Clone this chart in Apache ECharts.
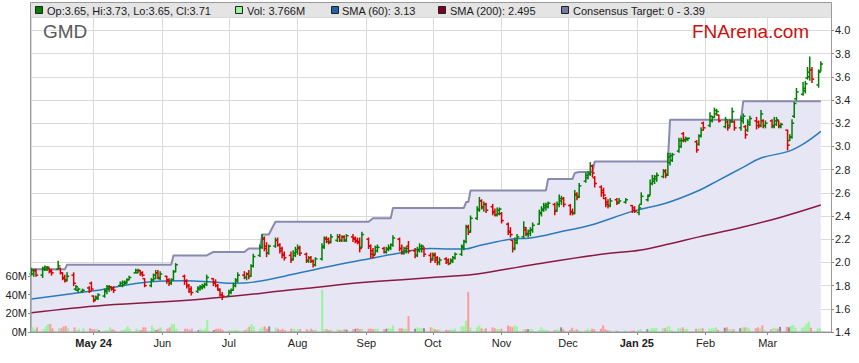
<!DOCTYPE html>
<html><head><meta charset="utf-8">
<script src="https://cdn.jsdelivr.net/npm/echarts@6/dist/echarts.min.js"></script>
<style>html,body{margin:0;padding:0;background:#fff}#c{width:859px;height:363px}</style>
</head><body><div id="c"></div>
<script>
// ---- daily bars: [day, open, high, low, close, volume(M)] ----
const apr24 = [[3,1.90,1.95,1.89,1.93,5],[4,1.90,1.94,1.88,1.93,3],[5,1.93,1.94,1.88,1.89,5],[8,1.89,1.96,1.87,1.95,3],[9,1.94,1.97,1.93,1.96,6],[10,1.94,1.96,1.93,1.96,8.5],[11,1.95,1.95,1.91,1.92,8.5],[12,1.93,1.94,1.89,1.91,4],[15,1.94,2.01,1.94,1.97,4],[16,1.95,1.95,1.90,1.91,4],[17,1.91,1.91,1.85,1.86,6],[18,1.87,1.89,1.83,1.84,6.5],[19,1.85,1.91,1.84,1.88,4],[22,1.89,1.91,1.80,1.82,5],[23,1.77,1.80,1.76,1.79,2],[24,1.76,1.78,1.74,1.77,3.5],[26,1.75,1.77,1.74,1.76,4],[29,1.78,1.79,1.74,1.75,4],[30,1.82,1.83,1.76,1.77,3]];
const may24 = [[1,1.71,1.71,1.66,1.67,3],[2,1.68,1.71,1.68,1.70,3.5],[3,1.69,1.73,1.68,1.72,2],[6,1.71,1.77,1.70,1.76,2],[7,1.75,1.80,1.73,1.79,2],[8,1.77,1.80,1.75,1.79,5],[9,1.79,1.79,1.76,1.77,3],[10,1.78,1.79,1.74,1.76,2],[13,1.80,1.83,1.80,1.82,1.5],[14,1.80,1.84,1.79,1.83,2],[15,1.81,1.84,1.81,1.83,3.5],[16,1.82,1.86,1.82,1.85,6],[17,1.85,1.88,1.85,1.87,3.5],[20,1.91,1.94,1.91,1.93,3.5],[21,1.91,1.94,1.91,1.93,2],[22,1.93,1.93,1.89,1.90,2],[23,1.91,1.92,1.88,1.89,5],[24,1.86,1.86,1.79,1.80,5],[27,1.80,1.86,1.79,1.85,7],[28,1.85,1.90,1.84,1.89,3.5],[29,1.86,1.93,1.86,1.91,2],[30,1.91,1.93,1.86,1.87,3.5],[31,1.86,1.92,1.85,1.90,5]];
const jun24 = [[3,1.88,1.88,1.82,1.84,3.5],[4,1.85,1.86,1.80,1.82,5],[5,1.82,1.86,1.81,1.85,8.5],[6,1.85,1.93,1.85,1.92,8.5],[7,1.92,1.99,1.92,1.98,3.5],[11,1.88,1.89,1.81,1.84,3.5],[12,1.84,1.85,1.78,1.80,3.5],[13,1.80,1.81,1.74,1.75,2],[14,1.77,1.79,1.72,1.74,3.5],[17,1.75,1.79,1.74,1.78,2],[18,1.77,1.80,1.76,1.79,3.5],[19,1.78,1.81,1.77,1.80,2],[20,1.79,1.82,1.78,1.81,3.5],[21,1.81,1.89,1.80,1.87,13],[24,1.86,1.86,1.80,1.82,2],[25,1.83,1.85,1.79,1.80,3.5],[26,1.80,1.81,1.76,1.77,3.5],[27,1.76,1.77,1.71,1.72,3.5],[28,1.72,1.74,1.68,1.71,2]];
const jul24 = [[1,1.71,1.76,1.71,1.75,2],[2,1.74,1.77,1.73,1.76,2],[3,1.76,1.82,1.76,1.80,2],[4,1.80,1.86,1.79,1.85,2],[5,1.84,1.91,1.83,1.89,2],[8,1.89,1.92,1.86,1.87,2],[9,1.87,1.91,1.85,1.90,3.5],[10,1.90,1.93,1.86,1.88,5.5],[11,1.88,1.98,1.88,1.97,8.5],[12,1.97,2.07,1.96,2.05,6],[15,2.06,2.15,2.05,2.13,3.5],[16,2.13,2.24,2.12,2.21,5],[17,2.20,2.22,2.10,2.12,6],[18,2.14,2.17,2.05,2.08,3.5],[19,2.08,2.15,2.07,2.14,6],[22,2.14,2.21,2.13,2.19,5],[23,2.19,2.21,2.14,2.15,3.5],[24,2.15,2.16,2.08,2.10,2],[25,2.12,2.13,2.04,2.06,3.5],[26,2.07,2.09,2.02,2.04,2],[29,2.06,2.09,2.00,2.02,3.5],[30,2.03,2.10,2.02,2.08,3.5],[31,2.06,2.13,2.05,2.11,2]];
const aug24 = [[1,2.09,2.15,2.07,2.13,3],[2,2.12,2.14,2.06,2.08,3],[5,2.07,2.08,2.00,2.02,3],[6,2.01,2.05,2.00,2.04,2],[7,2.04,2.05,2.00,2.01,3.5],[8,2.01,2.02,1.96,1.98,2],[9,1.98,2.04,1.97,2.03,3],[12,2.03,2.16,2.02,2.14,45],[13,2.13,2.22,2.12,2.20,3],[14,2.21,2.22,2.17,2.18,3],[15,2.20,2.21,2.16,2.17,2],[16,2.18,2.24,2.17,2.22,3],[19,2.19,2.24,2.18,2.22,3],[20,2.22,2.24,2.18,2.19,2],[21,2.19,2.23,2.18,2.22,2],[22,2.22,2.23,2.18,2.19,3],[23,2.19,2.24,2.18,2.23,2.5],[26,2.22,2.24,2.18,2.20,3],[27,2.21,2.22,2.17,2.18,3.5],[28,2.19,2.21,2.16,2.17,4],[29,2.18,2.21,2.09,2.12,3],[30,2.13,2.26,2.13,2.24,3.5]];
const sep24 = [[2,2.20,2.21,2.12,2.14,3.5],[3,2.14,2.15,2.04,2.07,3.5],[4,2.10,2.12,2.04,2.06,3],[5,2.07,2.14,2.07,2.13,3.5],[6,2.10,2.15,2.09,2.13,3.5],[9,2.12,2.13,2.08,2.09,3],[10,2.09,2.13,2.08,2.12,3.5],[11,2.11,2.15,2.10,2.13,4],[12,2.12,2.16,2.11,2.15,3.5],[13,2.15,2.23,2.14,2.21,7],[16,2.20,2.21,2.10,2.12,4],[17,2.12,2.15,2.07,2.09,4],[18,2.08,2.13,2.07,2.12,3.5],[19,2.10,2.13,2.08,2.12,3.5],[20,2.14,2.18,2.08,2.10,17],[23,2.10,2.12,2.04,2.06,3.5],[24,2.06,2.13,2.05,2.11,5],[25,2.10,2.16,2.09,2.14,4],[26,2.12,2.15,2.09,2.14,4],[27,2.12,2.13,2.05,2.07,4],[30,2.06,2.08,2.00,2.02,5]];
const oct24 = [[1,2.03,2.08,2.02,2.07,4],[2,2.06,2.08,2.00,2.02,3],[3,2.04,2.05,1.98,2.00,2.5],[4,2.00,2.04,1.98,2.02,3],[7,2.03,2.04,1.99,2.00,2.5],[8,2.02,2.03,1.98,1.99,2],[9,1.99,2.03,1.99,2.02,3],[10,2.01,2.05,2.00,2.04,2.5],[11,2.04,2.08,2.03,2.07,3.5],[14,2.07,2.15,2.06,2.14,6],[15,2.13,2.19,2.11,2.18,6],[16,2.18,2.32,2.17,2.30,12],[17,2.31,2.32,2.24,2.26,43],[18,2.27,2.40,2.26,2.38,5],[21,2.38,2.48,2.37,2.46,5],[22,2.45,2.56,2.44,2.53,7],[23,2.53,2.54,2.46,2.48,4],[24,2.47,2.52,2.44,2.50,3],[25,2.50,2.51,2.43,2.45,4],[28,2.48,2.50,2.41,2.43,5],[29,2.44,2.46,2.40,2.41,4],[30,2.41,2.47,2.40,2.45,3],[31,2.42,2.47,2.41,2.46,3]];
const nov24 = [[1,2.42,2.43,2.34,2.36,3.5],[4,2.33,2.34,2.24,2.26,7],[5,2.27,2.30,2.22,2.24,6],[6,2.19,2.19,2.09,2.12,5],[7,2.12,2.21,2.11,2.19,7],[8,2.17,2.24,2.16,2.22,6],[11,2.22,2.35,2.21,2.30,3],[12,2.28,2.30,2.23,2.25,3],[13,2.24,2.28,2.22,2.27,3],[14,2.25,2.30,2.23,2.28,3],[15,2.28,2.34,2.26,2.32,3],[18,2.33,2.45,2.33,2.43,2],[19,2.42,2.48,2.40,2.46,5],[20,2.45,2.51,2.44,2.49,3],[21,2.47,2.51,2.45,2.50,2],[22,2.48,2.52,2.47,2.51,2],[25,2.50,2.51,2.41,2.44,2],[26,2.45,2.52,2.44,2.50,3],[27,2.50,2.58,2.48,2.55,2],[28,2.53,2.57,2.50,2.55,5],[29,2.55,2.56,2.48,2.50,3]];
const dec24 = [[2,2.49,2.50,2.41,2.43,2],[3,2.44,2.46,2.41,2.42,4.5],[4,2.43,2.62,2.42,2.58,2],[5,2.59,2.60,2.54,2.56,3],[6,2.57,2.68,2.56,2.66,2],[9,2.70,2.77,2.69,2.75,2],[10,2.73,2.78,2.72,2.76,3.5],[11,2.76,2.86,2.75,2.83,2],[12,2.83,2.84,2.74,2.77,3.5],[13,2.73,2.74,2.65,2.68,3],[16,2.65,2.66,2.57,2.60,3.5],[17,2.62,2.64,2.55,2.58,7],[18,2.55,2.56,2.48,2.50,3],[19,2.52,2.54,2.47,2.49,2],[20,2.49,2.55,2.48,2.53,2],[23,2.54,2.55,2.50,2.52,1.5],[24,2.51,2.55,2.51,2.53,1],[27,2.52,2.55,2.51,2.54,1.5],[30,2.49,2.49,2.43,2.45,1.5],[31,2.47,2.48,2.43,2.44,1.5]];
const jan25 = [[2,2.43,2.49,2.41,2.47,2.5],[3,2.50,2.60,2.50,2.57,3],[6,2.54,2.58,2.53,2.57,3],[7,2.58,2.71,2.58,2.68,2],[8,2.68,2.75,2.67,2.72,4.5],[9,2.70,2.75,2.68,2.74,4],[10,2.72,2.77,2.70,2.75,4.5],[13,2.74,2.80,2.73,2.78,4],[14,2.79,2.80,2.73,2.75,4],[15,2.76,2.94,2.75,2.91,5.5],[16,2.86,2.94,2.84,2.92,6],[17,2.88,2.94,2.87,2.93,2],[20,2.96,3.07,2.95,3.05,4],[21,3.00,3.07,2.99,3.05,4],[22,3.11,3.12,3.04,3.06,5],[23,3.05,3.08,3.04,3.07,3],[24,3.06,3.07,3.05,3.07,3.5],[28,3.04,3.05,2.95,2.97,3.5],[29,3.02,3.10,3.01,3.09,3.5],[30,3.09,3.16,3.08,3.14,4],[31,3.20,3.21,3.14,3.16,4]];
const feb25 = [[3,3.18,3.29,3.17,3.26,3.5],[4,3.22,3.26,3.21,3.25,4],[5,3.25,3.33,3.25,3.31,4],[6,3.28,3.32,3.27,3.30,5],[7,3.27,3.27,3.21,3.22,2.5],[10,3.17,3.25,3.16,3.23,4.5],[11,3.21,3.22,3.14,3.16,5],[12,3.18,3.23,3.17,3.21,3],[13,3.22,3.33,3.21,3.30,3],[14,3.21,3.22,3.14,3.16,3],[17,3.16,3.26,3.14,3.24,4],[18,3.22,3.28,3.20,3.26,5],[19,3.17,3.18,3.07,3.10,5],[20,3.14,3.23,3.13,3.21,5],[21,3.19,3.26,3.18,3.24,4],[24,3.22,3.25,3.15,3.18,4],[25,3.21,3.22,3.16,3.18,5],[26,3.18,3.31,3.17,3.28,4],[27,3.22,3.23,3.16,3.18,7],[28,3.18,3.22,3.16,3.20,2]];
const mar25 = [[3,3.22,3.23,3.16,3.18,3],[4,3.17,3.25,3.16,3.22,4.5],[5,3.19,3.25,3.18,3.23,4.5],[6,3.22,3.22,3.16,3.18,3.5],[7,3.17,3.20,3.16,3.19,5.5],[10,3.14,3.14,2.97,3.01,5.5],[11,3.05,3.10,3.05,3.08,5],[12,3.08,3.23,3.07,3.20,6.5],[13,3.26,3.38,3.25,3.37,7.5],[14,3.41,3.50,3.40,3.47,4.5],[17,3.45,3.55,3.44,3.50,4.5],[18,3.48,3.56,3.46,3.54,6],[19,3.59,3.68,3.58,3.64,9],[20,3.60,3.77,3.57,3.66,11],[21,3.66,3.68,3.55,3.58,4.5],[24,3.53,3.66,3.51,3.64,4],[25,3.65,3.73,3.65,3.71,3.766]];
const monthKeys = ['2024-04','2024-05','2024-06','2024-07','2024-08','2024-09','2024-10','2024-11','2024-12','2025-01','2025-02','2025-03'];
const monthRows = [apr24,may24,jun24,jul24,aug24,sep24,oct24,nov24,dec24,jan25,feb25,mar25];
// days whose volume bar is grey (unchanged)
const flatVolDays = ['2024-05-03','2024-05-29','2024-06-17','2024-06-24','2024-07-19','2024-08-23','2024-08-27','2024-09-10','2024-09-23','2024-09-27','2024-11-13','2024-11-28','2025-01-06','2025-02-10','2025-02-17','2025-03-07','2025-03-11'];
// consensus target (points where it changes)
const targetPts = [['2024-04-03',1.94],['2024-04-18',1.94],['2024-04-19',1.98],['2024-06-05',1.98],['2024-06-06',2.06],['2024-06-21',2.06],['2024-06-24',2.09],['2024-07-08',2.09],['2024-07-10',2.12],['2024-07-15',2.12],['2024-07-16',2.24],['2024-07-19',2.24],['2024-07-22',2.35],['2024-09-02',2.35],['2024-09-04',2.38],['2024-09-12',2.38],['2024-09-13',2.47],['2024-10-15',2.47],['2024-10-16',2.52],['2024-10-17',2.52],['2024-10-18',2.62],['2024-11-21',2.62],['2024-11-22',2.72],['2024-12-03',2.72],['2024-12-04',2.77],['2024-12-06',2.78],['2024-12-12',2.78],['2024-12-13',2.87],['2025-01-15',2.87],['2025-01-16',3.23],['2025-02-17',3.23],['2025-02-18',3.39],['2025-03-25',3.39]];
const sma60Pts = [['2024-04-03',1.685],['2024-05-01',1.755],['2024-05-27',1.834],['2024-06-11',1.842],['2024-06-24',1.83],['2024-07-03',1.82],['2024-07-12',1.83],['2024-08-02',1.91],['2024-08-14',1.96],['2024-08-30',2.02],['2024-09-13',2.07],['2024-09-30',2.12],['2024-10-09',2.115],['2024-10-15',2.115],['2024-10-22',2.145],['2024-11-05',2.20],['2024-11-14',2.21],['2024-11-29',2.27],['2024-12-11',2.32],['2024-12-30',2.44],['2025-01-14',2.51],['2025-01-29',2.62],['2025-02-07',2.71],['2025-02-17',2.81],['2025-02-26',2.90],['2025-03-10',2.955],['2025-03-17',3.02],['2025-03-25',3.13]];
const sma200Pts = [['2024-04-03',1.565],['2024-05-06',1.63],['2024-06-17',1.68],['2024-08-02',1.77],['2024-09-02',1.83],['2024-10-09',1.88],['2024-10-21',1.90],['2024-11-15',1.98],['2024-12-16',2.07],['2025-01-03',2.107],['2025-01-16',2.16],['2025-01-29',2.22],['2025-02-17',2.30],['2025-03-07',2.39],['2025-03-25',2.495]];
const monthNames = ['Jan','Feb','Mar','Apr','May','Jun','Jul','Aug','Sep','Oct','Nov','Dec'];
const volTicks = ['0M','20M','40M','60M'];

const pad = n => (n < 10 ? '0' : '') + n;
const ohlcData = [], volData = [];
monthKeys.forEach((ym, mi) => monthRows[mi].forEach(r => {
  const d = ym + '-' + pad(r[0]);
  ohlcData.push([d, r[1], r[4], r[3], r[2]]);
  let col = r[4] >= r[1] ? '#99f599' : '#ff9a9a';
  if (flatVolDays.indexOf(d) >= 0) col = '#8c8c8c';
  volData.push({ value: [d, r[5]], itemStyle: { color: col } });
}));

const FONT = 'Arial, "Liberation Sans", sans-serif';
const X_MIN = '2024-04-02T18:00:00', X_MAX = '2025-03-29T14:00:00';
const xMinTs = new Date(X_MIN).getTime();

const chart = echarts.init(document.getElementById('c'), null, { renderer: 'svg' });

const legendItems = [
  { sq: 35, tx: 47, color: '#008000', text: 'Op:3.65, Hi:3.73, Lo:3.65, Cl:3.71' },
  { sq: 235, tx: 247, color: '#99f599', text: 'Vol: 3.766M' },
  { sq: 331, tx: 342, color: '#1f64a8', text: 'SMA (60): 3.13' },
  { sq: 438, tx: 450, color: '#800028', text: 'SMA (200): 2.495' },
  { sq: 561, tx: 573, color: '#7878a8', text: 'Consensus Target: 0 - 3.39' }
];
const graphics = [
  { type: 'rect', z: 5, shape: { x: 31, y: 3, width: 800, height: 14 }, style: { fill: '#e4e4e4' } },
  { type: 'rect', z: 50, shape: { x: 30.5, y: 2.5, width: 801, height: 329.5 }, style: { fill: 'none', stroke: '#9a9a9a', lineWidth: 1 } },
  { type: 'text', z: 6, style: { text: 'GMD', x: 43, y: 22, font: '19px ' + FONT, fill: '#5a5a5a', textVerticalAlign: 'top', verticalAlign: 'top' } },
  { type: 'text', z: 6, style: { text: 'FNArena.com', x: 692, y: 22, font: '19px ' + FONT, fill: '#cc1010', textVerticalAlign: 'top', verticalAlign: 'top' } }
];
legendItems.forEach(it => {
  graphics.push({ type: 'rect', z: 6, shape: { x: it.sq + 0.5, y: 6.5, width: 7, height: 7 }, style: { fill: it.color, stroke: '#222', lineWidth: 1 } });
  graphics.push({ type: 'text', z: 6, style: { text: it.text, x: it.tx, y: 10.5, font: '11px ' + FONT, fill: '#1a1a1a', textVerticalAlign: 'middle', verticalAlign: 'middle' } });
});

chart.setOption({
  animation: false,
  backgroundColor: '#ffffff',
  graphic: graphics,
  grid: [
    { left: 31, right: 28, top: 17, bottom: 31 },
    { left: 31, right: 28, top: 276, bottom: 31 }
  ],
  xAxis: [
    { type: 'time', gridIndex: 0, min: X_MIN, max: X_MAX, splitNumber: 12,
      minInterval: 28 * 864e5, maxInterval: 31 * 864e5,
      axisLine: { lineStyle: { color: '#8a8a8a' } },
      axisTick: { show: true, length: 3, lineStyle: { color: '#8a8a8a' } },
      splitLine: { show: true, lineStyle: { color: '#dadada' } },
      axisLabel: { margin: 5, fontSize: 11, fontFamily: FONT, color: '#222', hideOverlap: false,
        showMinLabel: false, showMaxLabel: false,
        formatter: function (v) {
          const d = new Date(v);
          if (d.getDate() !== 1 || d.getHours() !== 0) return '';
          const m = monthNames[d.getMonth()];
          if (d.getMonth() === 0 || (v - xMinTs) < 31 * 864e5) return '{b|' + m + ' ' + String(d.getFullYear()).slice(2) + '}';
          return m;
        },
        rich: { b: { fontWeight: 'bold', fontSize: 11, fontFamily: FONT, color: '#222' } } } },
    { type: 'time', gridIndex: 1, min: X_MIN, max: X_MAX, show: false }
  ],
  yAxis: [
    { type: 'value', gridIndex: 0, position: 'right', min: 1.4, max: 1.4 + 315 / 116, interval: 0.2,
      axisLine: { show: true, lineStyle: { color: '#8a8a8a' } },
      axisTick: { show: true, length: 3, lineStyle: { color: '#8a8a8a' } },
      splitLine: { show: true, lineStyle: { color: '#dadada' } },
      axisLabel: { margin: 4, fontSize: 11, fontFamily: FONT, color: '#222', showMaxLabel: false,
        formatter: v => (v > 4.05 ? '' : v.toFixed(1)) } },
    { type: 'value', gridIndex: 1, position: 'left', min: 0, max: 60, interval: 20,
      axisLine: { show: true, lineStyle: { color: '#8a8a8a' } },
      axisTick: { show: true, length: 3, lineStyle: { color: '#8a8a8a' } },
      splitLine: { show: false },
      axisLabel: { margin: 4, fontSize: 11, fontFamily: FONT, color: '#222',
        formatter: v => volTicks[Math.round(v / 20)] } }
  ],
  series: [
    { name: 'Consensus Target', type: 'line', xAxisIndex: 0, yAxisIndex: 0, z: 1,
      data: targetPts, showSymbol: false, symbol: 'none',
      lineStyle: { color: '#8a8ab0', width: 2 },
      areaStyle: { color: '#e6e6f5', opacity: 1, origin: 'start' } },
    { name: 'Vol', type: 'bar', xAxisIndex: 1, yAxisIndex: 1, z: 2, barWidth: 2,
      data: volData },
    { name: 'SMA (200)', type: 'line', xAxisIndex: 0, yAxisIndex: 0, z: 3, smooth: 0.4,
      data: sma200Pts, showSymbol: false, symbol: 'none', lineStyle: { color: '#8c1a40', width: 1.5 } },
    { name: 'SMA (60)', type: 'line', xAxisIndex: 0, yAxisIndex: 0, z: 3, smooth: 0.4,
      data: sma60Pts, showSymbol: false, symbol: 'none', lineStyle: { color: '#2a7bbd', width: 1.5 } },
    { name: 'OHLC', type: 'custom', xAxisIndex: 0, yAxisIndex: 0, z: 4,
      encode: { x: 0, y: [1, 2, 3, 4] },
      data: ohlcData,
      renderItem: function (params, api) {
        const t = api.value(0);
        const o = api.coord([t, api.value(1)]);
        const c = api.coord([t, api.value(2)]);
        const l = api.coord([t, api.value(3)]);
        const h = api.coord([t, api.value(4)]);
        const col = api.value(2) >= api.value(1) ? '#008000' : '#dd0000';
        const X = o[0];
        const st = { stroke: col, lineWidth: 1.5 };
        return { type: 'group', children: [
          { type: 'line', shape: { x1: X, y1: h[1] - 0.5, x2: X, y2: l[1] + 0.5 }, style: st },
          { type: 'line', shape: { x1: X - 2.2, y1: o[1], x2: X, y2: o[1] }, style: st },
          { type: 'line', shape: { x1: X, y1: c[1], x2: X + 2.2, y2: c[1] }, style: st }
        ] };
      } }
  ]
});
</script></body></html>
